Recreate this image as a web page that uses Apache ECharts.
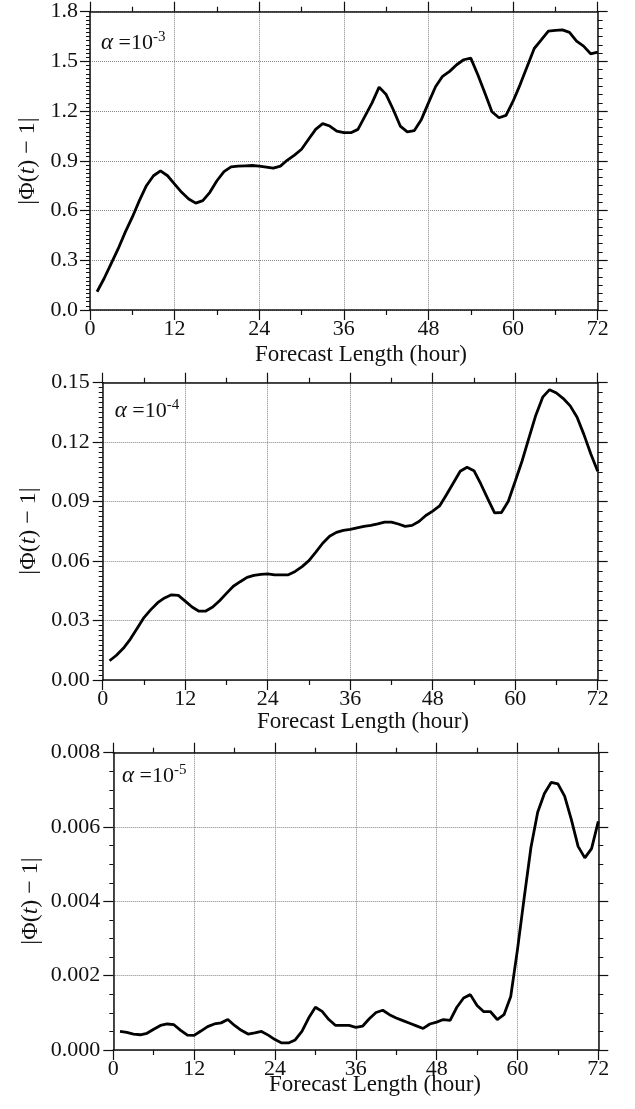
<!DOCTYPE html>
<html>
<head>
<meta charset="utf-8">
<script src="https://cdn.jsdelivr.net/npm/echarts@6/dist/echarts.min.js"></script>
<style>
  html, body { margin: 0; padding: 0; background: #fff; }
  #main { width: 635px; height: 1109px; }
</style>
</head>
<body>
<div id="main"></div>
<script>
// forecast hours 1..72
var hours = [];
for (var h = 1; h <= 72; h++) hours.push(h);

var xTicks = [0, 12, 24, 36, 48, 60, 72];

// alpha = 1e-3
var phi3 = [0.11, 0.19, 0.28, 0.37, 0.47, 0.56, 0.66, 0.75, 0.81, 0.84,
  0.81, 0.76, 0.71, 0.67, 0.645, 0.66, 0.71, 0.78, 0.835, 0.864,
  0.868, 0.87, 0.872, 0.868, 0.862, 0.856, 0.868, 0.905, 0.935, 0.97,
  1.03, 1.09, 1.125, 1.11, 1.08, 1.07, 1.07, 1.09, 1.17, 1.25,
  1.345, 1.30, 1.21, 1.11, 1.075, 1.083, 1.15, 1.25, 1.347, 1.41,
  1.44, 1.48, 1.51, 1.52, 1.42, 1.31, 1.196, 1.16, 1.174, 1.26,
  1.36, 1.47, 1.578, 1.63, 1.683, 1.687, 1.69, 1.675, 1.622, 1.592,
  1.546, 1.556];

// alpha = 1e-4
var phi4 = [0.0097, 0.0125, 0.016, 0.0205, 0.026, 0.0315, 0.0355, 0.039, 0.0414, 0.043,
  0.0427, 0.0398, 0.0368, 0.0347, 0.0348, 0.0368, 0.0400, 0.0437, 0.0473, 0.0496,
  0.0518, 0.0528, 0.0533, 0.0535, 0.053, 0.053, 0.0531, 0.0548, 0.0572, 0.0602,
  0.0645, 0.069, 0.0725, 0.0745, 0.0755, 0.076, 0.0768, 0.0775, 0.078, 0.0788,
  0.0797, 0.0797, 0.0787, 0.0775, 0.078, 0.0800, 0.083, 0.0852, 0.0878, 0.0935,
  0.0994, 0.1053, 0.1073, 0.1056, 0.0989, 0.0915, 0.0843, 0.0845, 0.0902, 0.1003,
  0.1105, 0.1222, 0.1336, 0.1427, 0.1465, 0.1448, 0.142, 0.1383, 0.1326, 0.1238,
  0.114, 0.1053];

// alpha = 1e-5
var phi5 = [0.000503, 0.000475, 0.00043, 0.00041, 0.00045, 0.00056, 0.00066, 0.0007, 0.00068, 0.00053,
  0.0004, 0.000395, 0.00051, 0.00063, 0.0007, 0.00073, 0.00082, 0.00066, 0.00053, 0.00043,
  0.00046, 0.0005, 0.0004, 0.00028, 0.00019, 0.00019, 0.00027, 0.0005, 0.00086, 0.00115,
  0.00104, 0.00082, 0.00066, 0.00066, 0.00066, 0.00061, 0.00064, 0.00084, 0.00101, 0.00107,
  0.00095, 0.00086, 0.00079, 0.00072, 0.00065, 0.00058, 0.0007, 0.00075, 0.00082, 0.0008,
  0.00115, 0.0014, 0.00149, 0.0012, 0.00103, 0.00103, 0.00082, 0.00095, 0.00144, 0.0027,
  0.0041, 0.00545, 0.0064, 0.0069, 0.0072, 0.00716, 0.00683, 0.0062, 0.00548, 0.00517,
  0.00542, 0.00615];

var yTicks3 = [0.0, 0.3, 0.6, 0.9, 1.2, 1.5, 1.8];
var yTicks4 = [0.00, 0.03, 0.06, 0.09, 0.12, 0.15];
var yTicks5 = [0.000, 0.002, 0.004, 0.006, 0.008];

var alphaExp = ['-3', '-4', '-5'];

var font = 'Liberation Serif, Times New Roman, serif';

var panels = [
  { data: phi3, ticks: yTicks3, dec: 1, leftMinor: 12, rightMinor: 6,
    grid: { left: 90, top: 11.7, width: 507.7, height: 298.3 }, lm: 12,
    xname: [361, 355], yname: [28, 161], note: [101, 43] },
  { data: phi4, ticks: yTicks4, dec: 2, leftMinor: 12, rightMinor: 6,
    grid: { left: 102.7, top: 382.7, width: 495, height: 297.3 }, lm: 13,
    xname: [363, 722], yname: [29, 531], note: [114.7, 411] },
  { data: phi5, ticks: yTicks5, dec: 3, leftMinor: 4, rightMinor: 4,
    grid: { left: 113.3, top: 752.7, width: 485, height: 297.3 }, lm: 13,
    xname: [375, 1085], yname: [31, 901], note: [122, 776] }
];

var axisLine = { onZero: false, lineStyle: { color: '#111', width: 1.5 } };
var tick = { length: 10, lineStyle: { color: '#111', width: 1.2 } };
var grids = [], xAxes = [], yAxes = [], series = [], graphics = [];

panels.forEach(function (p, i) {
  grids.push(p.grid);
  var ymin = p.ticks[0], ymax = p.ticks[p.ticks.length - 1];
  var yint = p.ticks[1] - p.ticks[0];
  // bottom x
  xAxes.push({
    gridIndex: i, type: 'value', position: 'bottom',
    min: xTicks[0], max: xTicks[xTicks.length - 1], interval: 12,
    axisLine: axisLine, axisTick: tick,
    minorTick: { show: true, splitNumber: 2, length: 5, lineStyle: { color: '#111', width: 1.2 } },
    axisLabel: { color: '#111', fontFamily: font, fontSize: 22, margin: 8 },
    splitLine: { show: true, lineStyle: { type: 'dotted', color: '#888', width: 1 } }
  });
  // top x
  xAxes.push({
    gridIndex: i, type: 'value', position: 'top',
    min: xTicks[0], max: xTicks[xTicks.length - 1], interval: 12,
    axisLine: axisLine, axisTick: tick,
    minorTick: { show: true, splitNumber: 2, length: 5, lineStyle: { color: '#111', width: 1.2 } },
    axisLabel: { show: false }, splitLine: { show: false }
  });
  // left y
  yAxes.push({
    gridIndex: i, type: 'value', position: 'left',
    min: ymin, max: ymax, interval: yint,
    axisLine: axisLine, axisTick: tick,
    minorTick: { show: true, splitNumber: p.leftMinor, length: 4, lineStyle: { color: '#111', width: 1 } },
    axisLabel: { color: '#111', fontFamily: font, fontSize: 22, margin: p.lm,
      formatter: (function (d) { return function (v) { return v.toFixed(d); }; })(p.dec) },
    splitLine: { show: true, lineStyle: { type: 'dotted', color: '#888', width: 1 } }
  });
  // right y
  yAxes.push({
    gridIndex: i, type: 'value', position: 'right',
    min: ymin, max: ymax, interval: yint,
    axisLine: axisLine, axisTick: tick,
    minorTick: { show: true, splitNumber: p.rightMinor, length: 5, lineStyle: { color: '#111', width: 1 } },
    axisLabel: { show: false }, splitLine: { show: false }
  });
  series.push({
    type: 'line', xAxisIndex: 2 * i, yAxisIndex: 2 * i,
    data: hours.map(function (h, k) { return [h, p.data[k]]; }),
    symbol: 'none', lineStyle: { color: '#000', width: 2.8 }
  });
  graphics.push({
    type: 'text', x: p.xname[0], y: p.xname[1],
    style: { text: 'Forecast Length (hour)', font: '23px ' + font, fill: '#111',
      textAlign: 'center', textVerticalAlign: 'middle' }
  });
  graphics.push({
    type: 'text', x: p.yname[0], y: p.yname[1], rotation: Math.PI / 2,
    style: {
      text: '{n||Φ(}{i|t}{n|) − 1|}',
      textAlign: 'center', textVerticalAlign: 'middle', fill: '#111',
      rich: {
        n: { fontFamily: font, fontSize: 24, fill: '#111' },
        i: { fontFamily: font, fontSize: 24, fontStyle: 'italic', fill: '#111' }
      }
    }
  });
  graphics.push({
    type: 'text', x: p.note[0], y: p.note[1],
    style: {
      text: '{a|α}{n| =10}{s|' + alphaExp[i] + '}',
      textAlign: 'left', textVerticalAlign: 'middle', fill: '#111',
      rich: {
        a: { fontFamily: font, fontSize: 23, fontStyle: 'italic', fill: '#111' },
        n: { fontFamily: font, fontSize: 22, fill: '#111' },
        s: { fontFamily: font, fontSize: 15, fill: '#111', verticalAlign: 'top', padding: [0, 0, 12, 0] }
      }
    }
  });
});

var chart = echarts.init(document.getElementById('main'));
chart.setOption({
  animation: false,
  backgroundColor: '#fff',
  grid: grids,
  xAxis: xAxes,
  yAxis: yAxes,
  series: series,
  graphic: graphics
});
</script>
</body>
</html>
